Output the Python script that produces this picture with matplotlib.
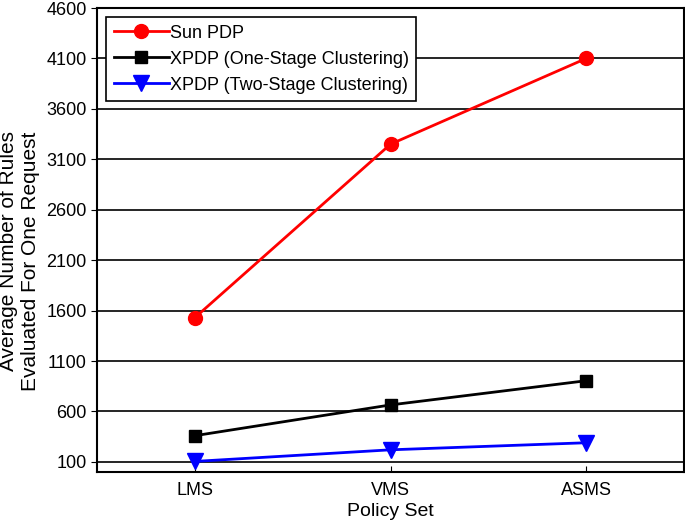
import matplotlib
matplotlib.use('Agg')
import matplotlib.pyplot as plt

# data
policy_sets = ['LMS', 'VMS', 'ASMS']
sun_pdp = [1530, 3250, 4100]
xpdp_one = [360, 665, 905]
xpdp_two = [105, 220, 290]

plt.rcParams['font.family'] = ['Liberation Sans', 'DejaVu Sans']

fig = plt.figure(figsize=(6.85, 5.2), dpi=100)
ax = fig.add_axes([0.1416, 0.0923, 0.857, 0.8923])

x = range(len(policy_sets))
ax.plot(x, sun_pdp, color='red', marker='o', markersize=10, linewidth=2, label='Sun PDP')
ax.plot(x, xpdp_one, color='black', marker='s', markersize=9, linewidth=2,
        label='XPDP (One-Stage Clustering)')
ax.plot(x, xpdp_two, color='blue', marker='v', markersize=11, linewidth=2,
        label='XPDP (Two-Stage Clustering)')

ax.set_xlim(-0.5, 2.5)
ax.set_ylim(0, 4600)
ax.set_xticks(list(x))
ax.set_xticklabels(policy_sets)
ax.set_yticks(range(100, 4601, 500))

ax.grid(axis='y', color='black', linewidth=1.2)
ax.set_axisbelow(True)
ax.tick_params(axis='x', direction='in', length=4, labelsize=13, pad=7)
ax.tick_params(axis='y', direction='out', length=4, labelsize=13)
for s in ax.spines.values():
    s.set_linewidth(1.5)

ax.set_xlabel('Policy Set', fontsize=14, labelpad=3)
ax.set_ylabel('Average Number of Rules\nEvaluated For One Request', fontsize=15,
              multialignment='right', linespacing=1.2)
ax.yaxis.set_label_coords(-0.097, 0.455)

leg = ax.legend(loc='upper left', fontsize=13, fancybox=False, framealpha=1,
                edgecolor='black', handlelength=3.05, borderaxespad=0.5,
                labelspacing=0.5, handletextpad=0.05, borderpad=0.42)
leg.get_frame().set_linewidth(1.2)

plt.savefig('out.png')
